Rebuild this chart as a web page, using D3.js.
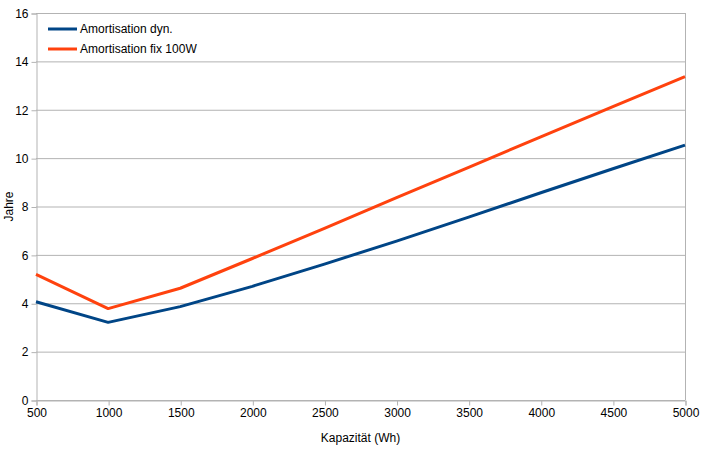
<!DOCTYPE html>
<html><head><meta charset="utf-8">
<script src="https://cdn.jsdelivr.net/npm/d3@7"></script>
<style>body{margin:0;background:#fff}text{font-family:"Liberation Sans",Arial,sans-serif}</style>
</head><body>
<svg id="c" width="708" height="449"></svg>
<script>
const kapazitaet = [500,1000,1500,2000,2500,3000,3500,4000,4500,5000];
const dyn = [4.06,3.21,3.86,4.70,5.62,6.57,7.56,8.57,9.56,10.54];
const fix100 = [5.19,3.78,4.62,5.85,7.10,8.37,9.62,10.88,12.13,13.37];
const seriesNames = ["Amortisation dyn.","Amortisation fix 100W"];
const colors = ["#004586","#ff420e"];
const xTicks = [500,1000,1500,2000,2500,3000,3500,4000,4500,5000];
const yTicks = [0,2,4,6,8,10,12,14,16];

const svg = d3.select("#c");
const L=36,R=685,T=13,B=400;
const x = d3.scaleLinear().domain([500,5000]).range([L,R]);
const y = d3.scaleLinear().domain([0,16]).range([B,T]);
const grid="#b3b3b3";

// horizontal gridlines
svg.append("g").selectAll("line").data(yTicks).join("line")
  .attr("x1",L).attr("x2",R).attr("y1",d=>y(d)+0.5).attr("y2",d=>y(d)+0.5)
  .attr("stroke",grid).attr("stroke-width",1);
// right border
svg.append("line").attr("x1",R+0.5).attr("x2",R+0.5).attr("y1",T).attr("y2",B).attr("stroke",grid);

// y axis
const ya = svg.append("g").attr("transform",`translate(${L+0.5},0.5)`)
  .call(d3.axisLeft(y).tickValues(yTicks).tickSize(5).tickPadding(3));
// x axis
const xa = svg.append("g").attr("transform",`translate(0.5,${B+0.5})`)
  .call(d3.axisBottom(x).tickValues(xTicks).tickSize(5).tickPadding(3).tickFormat(d3.format("d")));
[ya,xa].forEach(a=>{
  a.selectAll("path,line").attr("stroke",grid);
  a.selectAll("text").attr("fill","#000").style("font-size","12px").style("font-family","'Liberation Sans',Arial,sans-serif");
});

// lines
const line = d3.line().x((d,i)=>x(kapazitaet[i])).y(d=>y(d));
[dyn,fix100].forEach((s,k)=>{
  svg.append("path").datum(s).attr("d",line).attr("fill","none")
    .attr("stroke",colors[k]).attr("stroke-width",3).attr("stroke-linejoin","round");
});

// axis titles
svg.append("text").attr("x",(L+R)/2).attr("y",442).attr("text-anchor","middle")
  .style("font-size","12px").text("Kapazität (Wh)");
svg.append("text").attr("transform",`translate(13,${(T+B)/2}) rotate(-90)`).attr("text-anchor","middle")
  .style("font-size","12px").text("Jahre");

// legend
seriesNames.forEach((n,k)=>{
  const yy = 29 + k*20;
  svg.append("line").attr("x1",48).attr("x2",77).attr("y1",yy).attr("y2",yy)
    .attr("stroke",colors[k]).attr("stroke-width",3);
  svg.append("text").attr("x",80).attr("y",yy+4).style("font-size","12px").text(n);
});
</script>
</body></html>
